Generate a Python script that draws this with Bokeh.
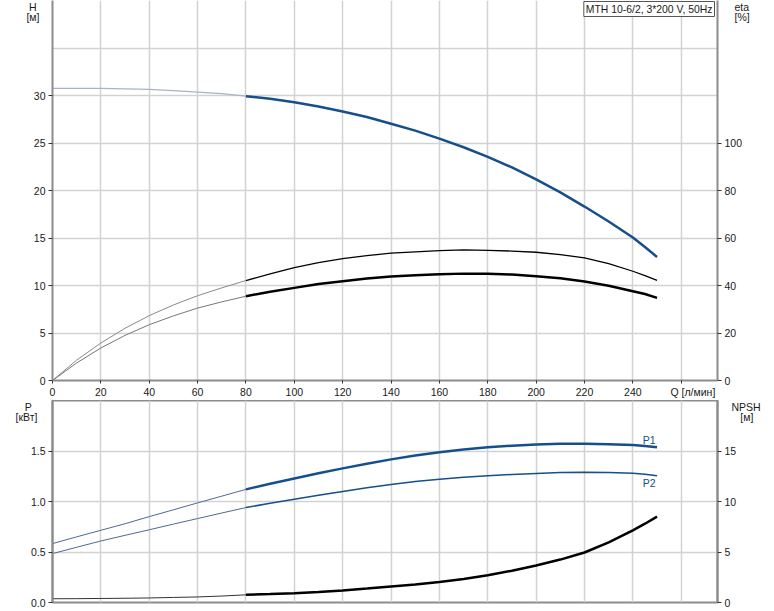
from bokeh.plotting import figure
from bokeh.models import Range1d, LinearAxis, FixedTicker, Grid, Label, NumeralTickFormatter
from bokeh.layouts import column
from bokeh.embed import file_html
from bokeh.resources import INLINE

# ---- data ----
q = [0, 10, 20, 30, 40, 50, 60, 70, 80, 90, 100, 110, 120, 130, 140, 150, 160, 170,
     180, 190, 200, 210, 220, 230, 240, 245, 250]
head = [30.75, 30.75, 30.75, 30.7, 30.64, 30.52, 30.36, 30.2, 29.93, 29.65, 29.3, 28.85,
        28.32, 27.73, 27.03, 26.3, 25.46, 24.55, 23.54, 22.43, 21.17, 19.81, 18.31,
        16.74, 15.06, 14.05, 13.0]
eta_a = [0, 8.6, 15.8, 22.0, 27.3, 31.8, 35.7, 39.0, 42.1, 44.9, 47.5, 49.6, 51.3, 52.6,
         53.6, 54.2, 54.7, 55.0, 54.8, 54.5, 54.0, 53.0, 51.6, 49.2, 46.0, 44.2, 42.2]
eta_b = [0, 7.4, 13.7, 19.0, 23.5, 27.2, 30.5, 33.1, 35.5, 37.4, 39.0, 40.6, 41.8, 42.9,
         43.8, 44.3, 44.7, 45.0, 44.9, 44.6, 43.9, 43.1, 41.7, 39.9, 37.6, 36.4, 34.8]
p1 = [0.583, 0.65, 0.715, 0.78, 0.85, 0.918, 0.986, 1.053, 1.12, 1.176, 1.228, 1.279,
      1.328, 1.374, 1.417, 1.455, 1.487, 1.515, 1.537, 1.553, 1.565, 1.571, 1.573,
      1.568, 1.56, 1.55, 1.536]
p2 = [0.484, 0.547, 0.609, 0.665, 0.72, 0.776, 0.831, 0.886, 0.94, 0.983, 1.023, 1.063,
      1.10, 1.136, 1.169, 1.197, 1.221, 1.24, 1.255, 1.268, 1.278, 1.286, 1.29, 1.287,
      1.28, 1.27, 1.254]
npsh = [0.37, 0.38, 0.4, 0.42, 0.45, 0.5, 0.55, 0.64, 0.76, 0.83, 0.92, 1.04, 1.19, 1.38,
        1.59, 1.79, 2.02, 2.33, 2.7, 3.15, 3.67, 4.25, 4.95, 5.95, 7.15, 7.8, 8.5]
q_split = 80  # start of the duty range (thick lines)

x_ticks = [0, 20, 40, 60, 80, 100, 120, 140, 160, 180, 200, 220, 240, 260]
h_ticks = [0, 5, 10, 15, 20, 25, 30]
h_grid = [5, 10, 15, 20, 25, 30, 35]
eta_ticks = [0, 20, 40, 60, 80, 100]
p_ticks = [0, 0.5, 1.0, 1.5]
p_grid = [0.5, 1.0, 1.5]
npsh_ticks = [0, 5, 10, 15]
title_text = "MTH 10-6/2, 3*200 V, 50Hz"
q_label = "Q [л/мин]"
NB = "\u00a0"

FONT = "Liberation Sans"
FS = "10.5px"
BLUE = "#174e8c"
GRID = "#d2d2d2"
AXIS = "#8c8c8c"
TXT = "#1a1a1a"


def split(xs, ys):
    lo = [(x, y) for x, y in zip(xs, ys) if x <= q_split]
    hi = [(x, y) for x, y in zip(xs, ys) if x >= q_split]
    return ([a for a, _ in lo], [b for _, b in lo]), ([a for a, _ in hi], [b for _, b in hi])


def style_axis(ax, ticks):
    ax.ticker = FixedTicker(ticks=ticks)
    ax.axis_line_color = AXIS
    ax.axis_line_width = 2
    ax.major_tick_line_color = "#333333"
    ax.major_tick_out = 4
    ax.major_tick_in = 0
    ax.minor_tick_line_color = None
    ax.minor_tick_out = 0
    ax.minor_tick_in = 0
    ax.major_label_text_font = FONT
    ax.major_label_text_font_size = FS
    ax.major_label_text_color = TXT
    ax.major_label_standoff = 3


def name_axis(fig, side, ticks, texts, standoff):
    # unit caption drawn as the tick labels of a bare extra axis
    ax = LinearAxis(ticker=FixedTicker(ticks=ticks),
                    major_label_overrides=dict(zip(ticks, texts)),
                    axis_line_color=None, major_tick_line_color=None,
                    minor_tick_line_color=None, major_tick_out=0, major_tick_in=0,
                    minor_tick_out=0, minor_tick_in=0, major_label_standoff=standoff,
                    major_label_text_font=FONT, major_label_text_font_size=FS,
                    major_label_text_color=TXT)
    fig.add_layout(ax, side)


W = 774
TOP_H = 400
BOT_H = 209
H_TOP = 40.0
x_range = Range1d(0, 275)

top = figure(width=W, height=TOP_H, x_range=x_range, y_range=Range1d(0, H_TOP),
             output_backend="svg", toolbar_location=None,
             min_border_left=52, min_border_right=57, min_border_top=0, min_border_bottom=19,
             outline_line_color=None)
top.extra_y_ranges = {"eta": Range1d(0, H_TOP * 4)}
top.add_layout(LinearAxis(y_range_name="eta"), "right")
style_axis(top.xaxis[0], x_ticks)
top.xaxis[0].major_label_overrides = {260: NB * 8 + q_label}
top.xaxis[0].major_tick_out = 3
top.xaxis[0].major_label_standoff = 2
style_axis(top.yaxis[0], h_ticks)
style_axis(top.yaxis[1], eta_ticks)
name_axis(top, "left", [39.475, 38.215], ["H" + NB, "[м]"], -9)
name_axis(top, "right", [39.475, 38.215], ["eta", "[%]"], -11)
top.xgrid.ticker = FixedTicker(ticks=x_ticks)
top.ygrid.ticker = FixedTicker(ticks=h_grid)
for g in list(top.xgrid) + list(top.ygrid):
    g.grid_line_color = GRID
    g.grid_line_width = 1.5

(lq, lh), (hq, hh) = split(q, head)
top.line(lq, lh, line_color="#a8b3c6", line_width=1.2)
top.line(hq, hh, line_color=BLUE, line_width=2.5)
(lq, la), (hq, ha) = split(q, eta_a)
top.line(lq, la, line_color="#8a8a8a", line_width=1, y_range_name="eta")
top.line(hq, ha, line_color="black", line_width=1.3, y_range_name="eta")
(lq, lb), (hq, hb) = split(q, eta_b)
top.line(lq, lb, line_color="#777777", line_width=1, y_range_name="eta")
top.line(hq, hb, line_color="black", line_width=2.5, y_range_name="eta")

top.add_layout(Label(x=275, y=H_TOP, x_offset=-3, y_offset=-1, text=title_text,
                     text_font=FONT, text_font_size="10.4px", text_color=TXT,
                     text_align="right", text_baseline="top",
                     background_fill_color="white", border_line_color="#555555",
                     border_line_width=1, padding=2))

bot = figure(width=W, height=BOT_H, x_range=x_range, y_range=Range1d(0, 2.0),
             output_backend="svg", toolbar_location=None, x_axis_location=None,
             min_border_left=52, min_border_right=57, min_border_top=0, min_border_bottom=7,
             outline_line_color=AXIS, outline_line_width=2)
bot.extra_y_ranges = {"npsh": Range1d(0, 20)}
bot.add_layout(LinearAxis(y_range_name="npsh"), "right")
style_axis(bot.yaxis[0], p_ticks)
bot.yaxis[0].formatter = NumeralTickFormatter(format="0.0")
style_axis(bot.yaxis[1], npsh_ticks)
name_axis(bot, "left", [1.960, 1.832], ["P" + NB * 2, "[кВт]"], -10)
name_axis(bot, "right", [1.960, 1.832], ["NPSH", NB * 3 + "[м]"], -8)
for g in bot.xgrid:
    g.visible = False
bot.add_layout(Grid(dimension=0, ticker=FixedTicker(ticks=x_ticks),
                    grid_line_color=GRID, grid_line_width=1.5))
bot.ygrid.ticker = FixedTicker(ticks=p_grid)
bot.ygrid.grid_line_color = GRID
bot.ygrid.grid_line_width = 1.5

(lq, l1), (hq, h1) = split(q, p1)
bot.line(lq, l1, line_color="#4d6a93", line_width=1)
bot.line(hq, h1, line_color=BLUE, line_width=2.5)
(lq, l2), (hq, h2) = split(q, p2)
bot.line(lq, l2, line_color="#4d6a93", line_width=1)
bot.line(hq, h2, line_color=BLUE, line_width=1.5)
(lq, ln), (hq, hn) = split(q, npsh)
bot.line(lq, ln, line_color="#333333", line_width=1, y_range_name="npsh")
bot.line(hq, hn, line_color="black", line_width=2.5, y_range_name="npsh")

lab = dict(text_font=FONT, text_font_size=FS, text_color=BLUE,
           text_align="center", text_baseline="middle")
bot.add_layout(Label(x=246.7, y=1.61, text="P1", **lab))
bot.add_layout(Label(x=246.7, y=1.18, text="P2", **lab))

page = column(top, bot)
open("out.html", "w").write(file_html(page, INLINE))
